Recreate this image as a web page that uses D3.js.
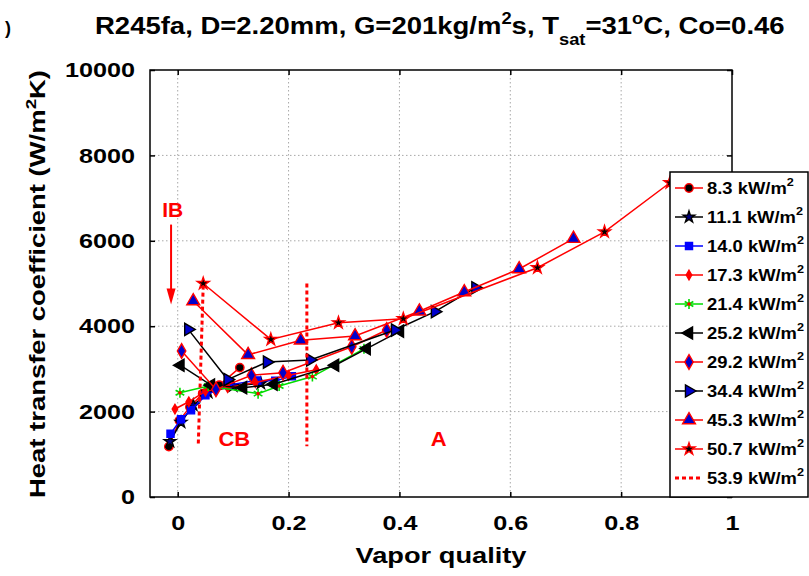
<!DOCTYPE html>
<html><head><meta charset="utf-8">
<script src="https://cdn.jsdelivr.net/npm/d3@7"></script>
<style>
body{margin:0;background:#fff}
svg{display:block}
text{font-family:"Liberation Sans",Arial,Helvetica,sans-serif;font-weight:bold}
</style>
</head><body>
<svg id="c" width="809" height="576"></svg>
<script>
// ---------- data ----------
const xTicks = [0, 0.2, 0.4, 0.6, 0.8, 1];
const yTicks = [0, 2000, 4000, 6000, 8000, 10000];
const fluxLabels = ["8.3", "11.1", "14.0", "17.3", "21.4", "25.2", "29.2", "34.4", "45.3", "50.7", "53.9"];

const q8_3  = [-0.016, 0.003, 0.022, 0.045, 0.075, 0.112];
const h8_3  = [1180, 1790, 2110, 2420, 2620, 3030];
const q11_1 = [-0.014, 0.006, 0.028, 0.055, 0.10, 0.15];
const h11_1 = [1300, 1750, 2150, 2450, 2600, 2660];
const q14_0 = [-0.013, 0.006, 0.024, 0.05, 0.09, 0.143, 0.176, 0.206];
const h14_0 = [1480, 1820, 2030, 2380, 2620, 2730, 2720, 2830];
const q17_3 = [-0.005, 0.02, 0.05, 0.09, 0.14, 0.20, 0.25];
const h17_3 = [2060, 2230, 2480, 2560, 2680, 2850, 2980];
const q21_4 = [0.004, 0.055, 0.145, 0.183, 0.243, 0.336];
const h21_4 = [2440, 2600, 2420, 2600, 2820, 3470];
const q25_2 = [0.005, 0.06, 0.118, 0.173, 0.284, 0.341, 0.401];
const h25_2 = [3085, 2620, 2560, 2640, 3085, 3475, 3885];
const q29_2 = [0.007, 0.069, 0.133, 0.19, 0.314, 0.377];
const h29_2 = [3420, 2520, 2850, 2910, 3520, 3910];
const q34_4 = [0.019, 0.09, 0.161, 0.239, 0.392, 0.464, 0.537];
const h34_4 = [3925, 2750, 3160, 3210, 3910, 4340, 4900];
const q45_3 = [0.028, 0.127, 0.222, 0.32, 0.436, 0.517, 0.616, 0.714];
const h45_3 = [4590, 3330, 3670, 3770, 4350, 4800, 5340, 6050];
const q50_7 = [0.046, 0.168, 0.29, 0.407, 0.649, 0.77, 0.888];
const h50_7 = [5000, 3690, 4080, 4175, 5370, 6210, 7360];
// regime boundaries (dotted)
const qIB_CB = [0.046, 0.037];
const hIB_CB = [4950, 1190];
const qCB_A  = [0.233, 0.233];
const hCB_A  = [5000, 1190];

// ---------- layout ----------
const svg = d3.select("#c");
const L = 150, R = 732, T = 70, B = 497;
const x = d3.scaleLinear().domain([-0.05, 1]).range([L, R]);
const y = d3.scaleLinear().domain([0, 10000]).range([B, T]);

function stretched(parent, px, py, anchor, size, fill, target, build, rot, fixedSx) {
  const g = parent.append("g");
  const t = g.append("text").attr("text-anchor", anchor).attr("font-size", size).attr("fill", fill);
  build(t);
  const w = t.node().getBBox().width;
  const sx = target ? target / w : (fixedSx || 1);
  g.attr("transform", `translate(${px},${py})` + (rot ? ` rotate(${rot})` : "") + ` scale(${sx},1)`);
  return g;
}

// gridlines
const grid = svg.append("g").attr("stroke", "#a8a8a8").attr("stroke-width", 1).attr("stroke-dasharray", "1.5,2.5");
xTicks.filter(v => v > -0.05 && v < 1).forEach(v =>
  grid.append("line").attr("x1", x(v)).attr("x2", x(v)).attr("y1", T).attr("y2", B));
yTicks.filter(v => v > 0 && v < 10000).forEach(v =>
  grid.append("line").attr("y1", y(v)).attr("y2", y(v)).attr("x1", L).attr("x2", R));

// axes
const TS = 21, SX = 1.2;
const ax = svg.append("g").attr("transform", `translate(0,${B})`)
  .call(d3.axisBottom(x).tickValues(xTicks).tickFormat(d3.format("~g")).tickSizeInner(-5).tickSizeOuter(0).tickPadding(18));
const axT = svg.append("g").attr("transform", `translate(0,${T})`)
  .call(d3.axisTop(x).tickValues(xTicks).tickFormat("").tickSizeInner(-5).tickSizeOuter(0));
const ay = svg.append("g").attr("transform", `translate(${L},0)`)
  .call(d3.axisLeft(y).tickValues(yTicks).tickFormat(d3.format("d")).tickSizeInner(-5).tickSizeOuter(0).tickPadding(12.5));
const ayR = svg.append("g").attr("transform", `translate(${R},0)`)
  .call(d3.axisRight(y).tickValues(yTicks).tickFormat("").tickSizeInner(-5).tickSizeOuter(0));
[ax, axT, ay, ayR].forEach(a => {
  a.select(".domain").remove();
  a.selectAll("line").attr("stroke", "#000").attr("stroke-width", 1.5);
  a.selectAll("text").attr("font-size", TS).attr("fill", "#000")
    .attr("font-family", '"Liberation Sans",Arial,sans-serif').attr("font-weight", "bold")
    .attr("transform", `scale(${SX},1)`);
});

// frame
svg.append("rect").attr("x", L).attr("y", T).attr("width", R - L).attr("height", B - T)
  .attr("fill", "none").attr("stroke", "#000").attr("stroke-width", 1.5);

// series styles
const series = [
  {q: q8_3,  h: h8_3,  line: "#ff0000", sym: "circle",   fill: "#000", stroke: "#ff0000", size: 55},
  {q: q11_1, h: h11_1, line: "#000000", sym: "star",     fill: "#000080", stroke: "#000", size: 42},
  {q: q14_0, h: h14_0, line: "#0000ff", sym: "square",   fill: "#0000ff", stroke: "#0000ff", size: 50},
  {q: q17_3, h: h17_3, line: "#ff0000", sym: "diamond",  fill: "#ff0000", stroke: "#ff0000", size: 26},
  {q: q21_4, h: h21_4, line: "#00dd00", sym: "asterisk", fill: "none", stroke: "#00dd00", size: 70},
  {q: q25_2, h: h25_2, line: "#000000", sym: "left",     fill: "#000", stroke: "#000", size: 65},
  {q: q29_2, h: h29_2, line: "#ff0000", sym: "diamond",  fill: "#0000cc", stroke: "#ff0000", size: 62},
  {q: q34_4, h: h34_4, line: "#000000", sym: "right",    fill: "#0000cc", stroke: "#000", size: 65},
  {q: q45_3, h: h45_3, line: "#ff0000", sym: "triangle", fill: "#0000cc", stroke: "#ff0000", size: 72},
  {q: q50_7, h: h50_7, line: "#ff0000", sym: "star",     fill: "#000", stroke: "#ff0000", size: 45}
];
const symTypes = {
  circle: d3.symbolCircle, star: d3.symbolStar, square: d3.symbolSquare, diamond: d3.symbolDiamond,
  asterisk: d3.symbolAsterisk || d3.symbolCross, left: d3.symbolTriangle, right: d3.symbolTriangle,
  triangle: d3.symbolTriangle
};
function marker(g, s, px, py) {
  const rot = s.sym === "left" ? -90 : s.sym === "right" ? 90 : 0;
  g.append("path").attr("d", d3.symbol().type(symTypes[s.sym]).size(s.size)())
    .attr("transform", `translate(${px},${py}) rotate(${rot})`)
    .attr("fill", s.fill).attr("stroke", s.stroke).attr("stroke-width", s.sym === "asterisk" ? 1.6 : 1.4);
  if (s.sym === "asterisk") {
    g.append("circle").attr("cx", px).attr("cy", py).attr("r", 1.8).attr("fill", "#ff0000");
  }
}
const lineGen = d3.line().x(d => x(d[0])).y(d => y(d[1]));
const plot = svg.append("g");
series.forEach(s => {
  const pts = s.q.map((v, i) => [v, s.h[i]]);
  plot.append("path").attr("d", lineGen(pts)).attr("fill", "none")
    .attr("stroke", s.line).attr("stroke-width", 1.5);
  pts.forEach(p => marker(plot, s, x(p[0]), y(p[1])));
});

// regime boundaries
[[qIB_CB, hIB_CB], [qCB_A, hCB_A]].forEach(([qq, hh]) => {
  plot.append("path").attr("d", lineGen(qq.map((v, i) => [v, hh[i]])))
    .attr("fill", "none").attr("stroke", "#ff0000").attr("stroke-width", 3).attr("stroke-dasharray", "4,3");
});

// annotations
const red = "#ff0000";
stretched(svg, x(-0.009), y(6565), "middle", 21, red, 0, t => t.text("IB"));
svg.append("line").attr("x1", x(-0.012)).attr("x2", x(-0.012)).attr("y1", y(6380)).attr("y2", y(4700))
  .attr("stroke", red).attr("stroke-width", 2);
svg.append("path")
  .attr("d", `M${x(-0.012) - 4.5},${y(4880)} L${x(-0.012) + 4.5},${y(4880)} L${x(-0.012)},${y(4510)} Z`)
  .attr("fill", red);
stretched(svg, x(0.102), y(1190), "middle", 20, red, 0, t => t.text("CB"), 0, 1.1);
stretched(svg, x(0.471), y(1190), "middle", 20, red, 0, t => t.text("A"), 0, 1.1);

// legend
const lg = svg.append("g");
lg.append("rect").attr("x", 670).attr("y", 172).attr("width", 138).attr("height", 325)
  .attr("fill", "#fff").attr("stroke", "#000").attr("stroke-width", 1.5);
fluxLabels.forEach((lab, i) => {
  const cy = 188 + i * 29;
  if (i < series.length) {
    const s = series[i];
    lg.append("line").attr("x1", 675).attr("x2", 703).attr("y1", cy).attr("y2", cy)
      .attr("stroke", s.line).attr("stroke-width", 1.5);
    marker(lg, s, 689, cy);
  } else {
    lg.append("line").attr("x1", 675).attr("x2", 703).attr("y1", cy).attr("y2", cy)
      .attr("stroke", red).attr("stroke-width", 3).attr("stroke-dasharray", "4,3");
  }
  stretched(lg, 707, cy + 6, "start", 16, "#000", 0, t => {
    t.append("tspan").text(lab + " kW/m");
    t.append("tspan").attr("font-size", 11).attr("dy", -8).text("2");
  }, 0, 1.15);
});

// title
stretched(svg, 95, 34, "start", 24, "#000", 690, t => {
  t.append("tspan").text("R245fa, D=2.20mm, G=201kg/m");
  t.append("tspan").attr("font-size", 16).attr("dy", -10).text("2");
  t.append("tspan").attr("dy", 10).text("s, T");
  t.append("tspan").attr("font-size", 16).attr("dy", 11).text("sat");
  t.append("tspan").attr("dy", -11).text("=31");
  t.append("tspan").attr("font-size", 16).attr("dy", -10).text("o");
  t.append("tspan").attr("dy", 10).text("C, Co=0.46");
});
// stray glyph at the left edge of the original
svg.append("text").attr("x", 5).attr("y", 34).attr("font-size", 18).attr("fill", "#000").text(")");

// axis titles
stretched(svg, 441, 563, "middle", 22, "#000", 172, t => t.text("Vapor quality"));
stretched(svg, 37, 284, "middle", 22, "#000", 428, t => {
  t.attr("dy", "0.35em");
  t.append("tspan").text("Heat transfer coefficient (W/m");
  t.append("tspan").attr("font-size", 15).attr("dy", -9).text("2");
  t.append("tspan").attr("dy", 9).text("K)");
}, -90);
</script>
</body></html>
